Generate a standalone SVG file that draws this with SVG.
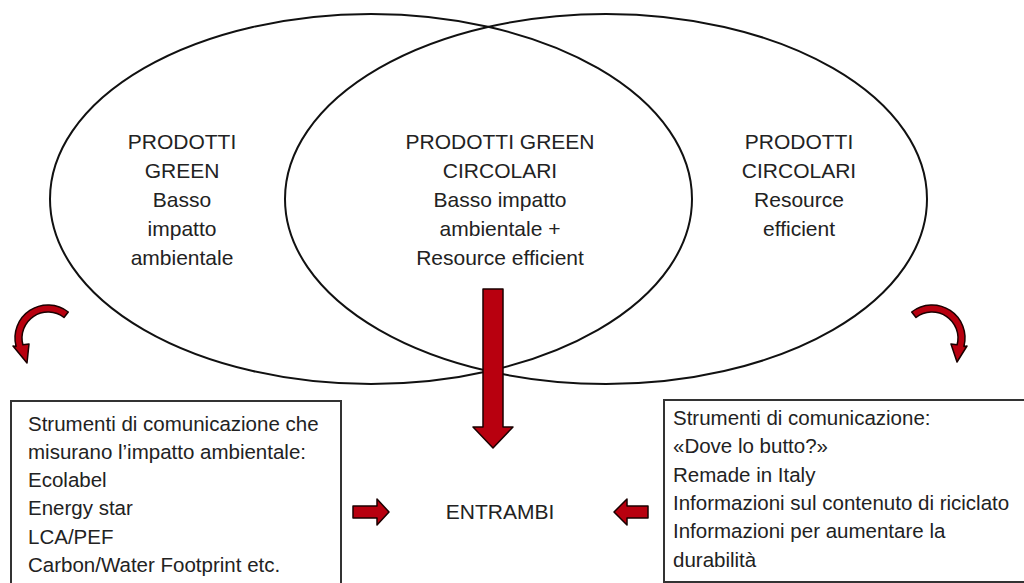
<svg xmlns="http://www.w3.org/2000/svg" width="1024" height="583" viewBox="0 0 1024 583">
<style>
.ell{fill:none;stroke:#111;stroke-width:2}
.box{fill:none;stroke:#333;stroke-width:2}
.t{font-family:"Liberation Sans",Arial,sans-serif;font-size:21px;fill:#222;text-anchor:middle}
.b{font-family:"Liberation Sans",Arial,sans-serif;font-size:20.5px;fill:#222}
.arr{fill:#b8000f;stroke:#1a0000;stroke-width:1.5;stroke-linejoin:round}
</style>
<rect width="1024" height="583" fill="#fff"/>
<g id="green">
<ellipse class="ell" cx="371" cy="199" rx="321" ry="185"/>
<text class="t" x="182" y="149">PRODOTTI</text>
<text class="t" x="182" y="178">GREEN</text>
<text class="t" x="182" y="207">Basso</text>
<text class="t" x="182" y="236">impatto</text>
<text class="t" x="182" y="265">ambientale</text>
</g>
<g id="circolari">
<ellipse class="ell" cx="606" cy="199" rx="321" ry="185"/>
<text class="t" x="799" y="149">PRODOTTI</text>
<text class="t" x="799" y="178">CIRCOLARI</text>
<text class="t" x="799" y="207">Resource</text>
<text class="t" x="799" y="236">efficient</text>
</g>
<g id="green-circolari">
<text class="t" x="500" y="149">PRODOTTI GREEN</text>
<text class="t" x="500" y="178">CIRCOLARI</text>
<text class="t" x="500" y="207">Basso impatto</text>
<text class="t" x="500" y="236">ambientale +</text>
<text class="t" x="500" y="265">Resource efficient</text>
</g>
<g id="box-left">
<rect class="box" x="11" y="401" width="330" height="190"/>
<text class="b" x="28" y="431">Strumenti di comunicazione che</text>
<text class="b" x="28" y="459">misurano l’impatto ambientale:</text>
<text class="b" x="28" y="487">Ecolabel</text>
<text class="b" x="28" y="515">Energy star</text>
<text class="b" x="28" y="544">LCA/PEF</text>
<text class="b" x="28" y="572">Carbon/Water Footprint etc.</text>
</g>
<g id="box-right">
<rect class="box" x="664" y="400" width="380" height="182"/>
<text class="b" x="673" y="425">Strumenti di comunicazione:</text>
<text class="b" x="673" y="453">«Dove lo butto?»</text>
<text class="b" x="673" y="482">Remade in Italy</text>
<text class="b" x="673" y="510">Informazioni sul contenuto di riciclato</text>
<text class="b" x="673" y="538">Informazioni per aumentare la</text>
<text class="b" x="673" y="567">durabilità</text>
</g>
<g id="entrambi">
<text class="t" x="500" y="519">ENTRAMBI</text>
</g>
<g id="connectors">
<path class="arr" d="M68.3 312 A33 33 0 0 0 16.1 346.5 L13 346 L27 363 L29 344 L22.9 344.7 A26 26 0 0 1 64 317.5 Z"/>
<path class="arr" d="M911.7 312 A33 33 0 0 1 963.9 346.5 L967 346 L957 362 L951 344 L957.1 344.7 A26 26 0 0 0 916 317.5 Z"/>
<path class="arr" d="M483 289 H503 V427 H513 L493 448 L473 427 H483 Z"/>
<path class="arr" d="M353 506 H377 V499 L389 512 L377 525 V518 H353 Z"/>
<path class="arr" d="M648 506 H627 V499 L614 512 L627 525 V518 H648 Z"/>
</g>
</svg>
